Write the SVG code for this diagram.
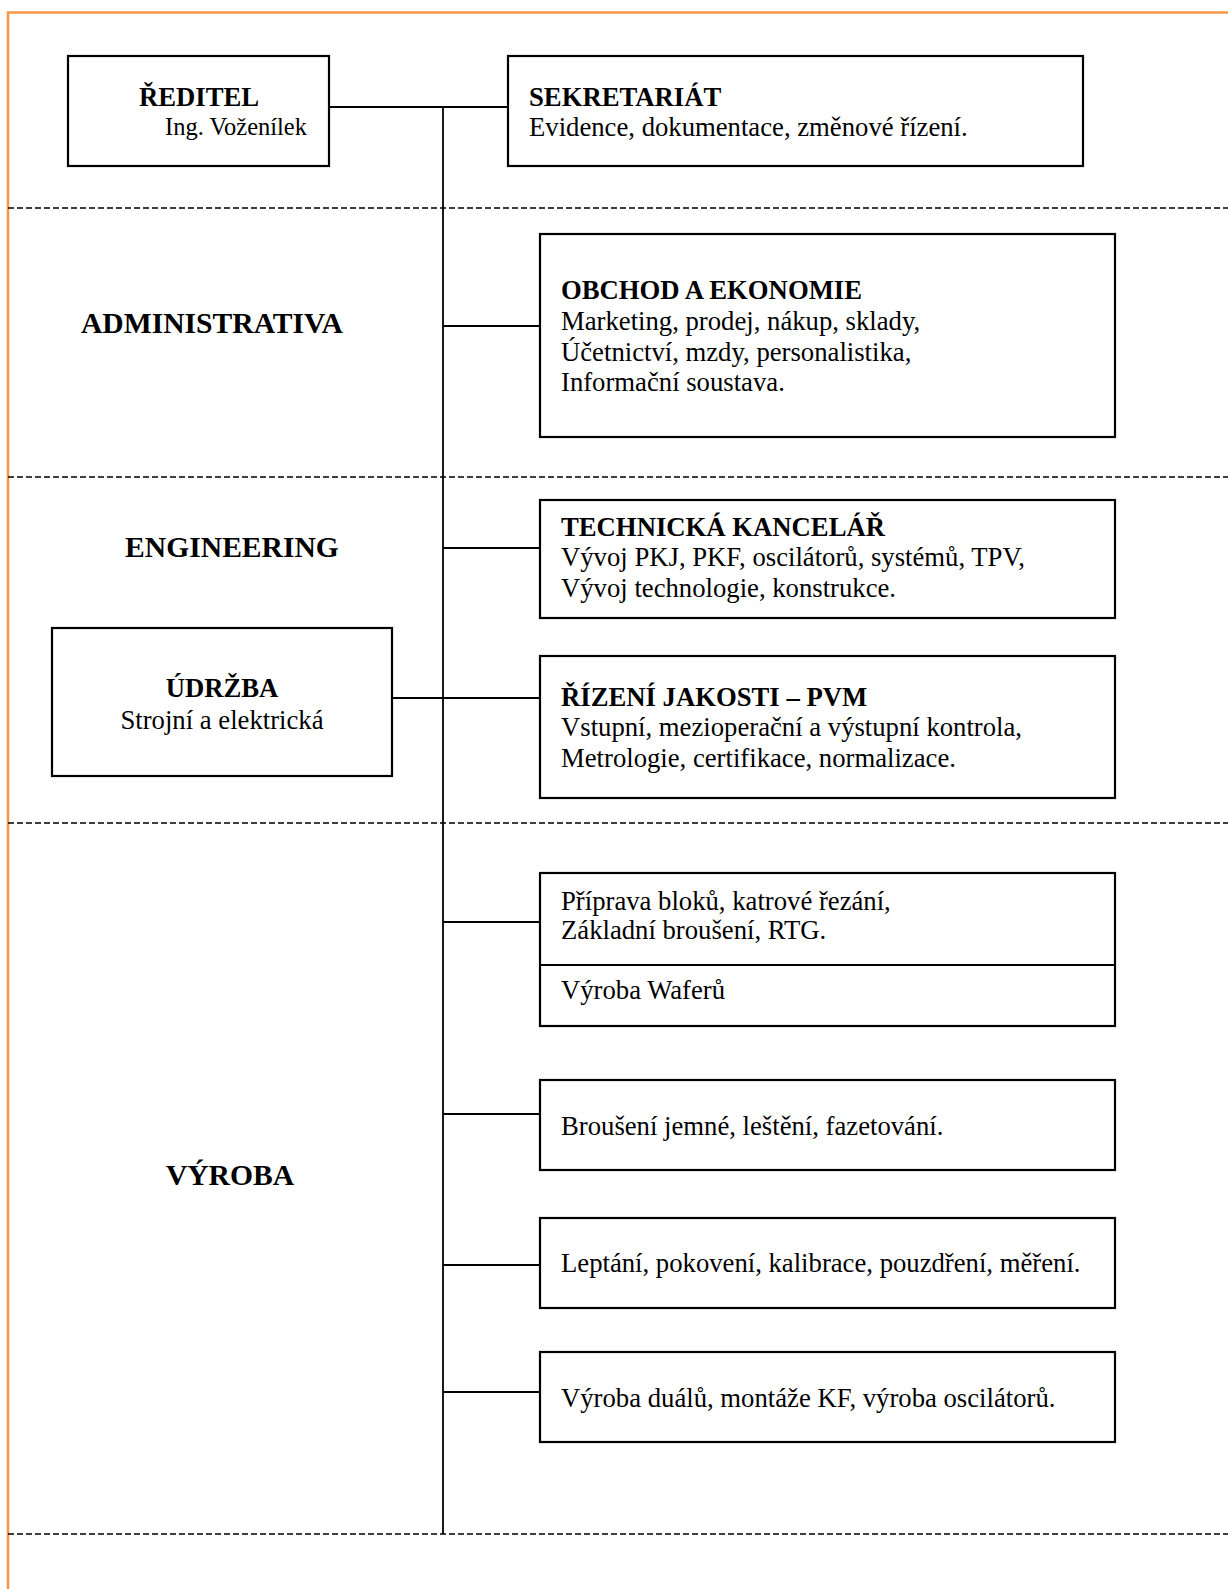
<svg xmlns="http://www.w3.org/2000/svg" width="1228" height="1589" viewBox="0 0 1228 1589">
<style>
.box{fill:#fff;stroke:#000;stroke-width:2.2}
.ln{stroke:#000;stroke-width:1.8;fill:none}
.dash{stroke:#000;stroke-width:1.4;stroke-dasharray:6 3;fill:none}
text{font-family:"Liberation Serif","Times New Roman",serif;fill:#000}
.t{font-size:26.7px}
.b{font-size:26.7px;font-weight:bold}
.s{font-size:24.5px}
.sec{font-size:29.6px;font-weight:bold}
</style>
<rect width="1228" height="1589" fill="#fff"/>
<path d="M8,1589 V12.5 H1228" stroke="#f79646" stroke-width="2.5" fill="none"/>
<g id="separators">
<line class="dash" x1="8" y1="208" x2="1228" y2="208"/>
<line class="dash" x1="8" y1="477" x2="1228" y2="477"/>
<line class="dash" x1="8" y1="823" x2="1228" y2="823"/>
<line class="dash" x1="8" y1="1534" x2="1228" y2="1534"/>
</g>
<g id="connectors">
<line class="ln" x1="443" y1="107" x2="443" y2="1534"/>
<line class="ln" x1="329" y1="107" x2="508" y2="107"/>
<line class="ln" x1="443" y1="326" x2="540" y2="326"/>
<line class="ln" x1="443" y1="548" x2="540" y2="548"/>
<line class="ln" x1="392" y1="698" x2="540" y2="698"/>
<line class="ln" x1="443" y1="922" x2="540" y2="922"/>
<line class="ln" x1="443" y1="1114" x2="540" y2="1114"/>
<line class="ln" x1="443" y1="1265" x2="540" y2="1265"/>
<line class="ln" x1="443" y1="1392" x2="540" y2="1392"/>
</g>
<g id="sections">
<text class="sec" x="212" y="333" text-anchor="middle">ADMINISTRATIVA</text>
<text class="sec" x="232" y="557" text-anchor="middle">ENGINEERING</text>
<text class="sec" x="230" y="1185" text-anchor="middle">VÝROBA</text>
</g>
<g id="reditel">
<rect class="box" x="68" y="56" width="261" height="110"/>
<text class="b" x="139" y="106">ŘEDITEL</text>
<text class="s" x="165" y="135">Ing. Voženílek</text>
</g>
<g id="sekretariat">
<rect class="box" x="508" y="56" width="575" height="110"/>
<text class="b" x="529" y="106">SEKRETARIÁT</text>
<text class="t" x="529" y="136">Evidence, dokumentace, změnové řízení.</text>
</g>
<g id="obchod">
<rect class="box" x="540" y="234" width="575" height="203"/>
<text class="b" x="561" y="299">OBCHOD A EKONOMIE</text>
<text class="t" x="561" y="330">Marketing, prodej, nákup, sklady,</text>
<text class="t" x="561" y="361">Účetnictví, mzdy, personalistika,</text>
<text class="t" x="561" y="391">Informační soustava.</text>
</g>
<g id="technicka">
<rect class="box" x="540" y="500" width="575" height="118"/>
<text class="b" x="561" y="536">TECHNICKÁ KANCELÁŘ</text>
<text class="t" x="561" y="566">Vývoj PKJ, PKF, oscilátorů, systémů, TPV,</text>
<text class="t" x="561" y="597">Vývoj technologie, konstrukce.</text>
</g>
<g id="udrzba">
<rect class="box" x="52" y="628" width="340" height="148"/>
<text class="b" x="222" y="697" text-anchor="middle">ÚDRŽBA</text>
<text class="t" x="222" y="729" text-anchor="middle">Strojní a elektrická</text>
</g>
<g id="jakost">
<rect class="box" x="540" y="656" width="575" height="142"/>
<text class="b" x="561" y="706">ŘÍZENÍ JAKOSTI – PVM</text>
<text class="t" x="561" y="736">Vstupní, mezioperační a výstupní kontrola,</text>
<text class="t" x="561" y="767">Metrologie, certifikace, normalizace.</text>
</g>
<g id="priprava">
<rect class="box" x="540" y="873" width="575" height="153"/>
<line class="ln" x1="540" y1="965" x2="1115" y2="965" stroke-width="2.2"/>
<text class="t" x="561" y="910">Příprava bloků, katrové řezání,</text>
<text class="t" x="561" y="939">Základní broušení, RTG.</text>
<text class="t" x="561" y="999">Výroba Waferů</text>
</g>
<g id="brouseni">
<rect class="box" x="540" y="1080" width="575" height="90"/>
<text class="t" x="561" y="1135">Broušení jemné, leštění, fazetování.</text>
</g>
<g id="leptani">
<rect class="box" x="540" y="1218" width="575" height="90"/>
<text class="t" x="561" y="1272">Leptání, pokovení, kalibrace, pouzdření, měření.</text>
</g>
<g id="dualy">
<rect class="box" x="540" y="1352" width="575" height="90"/>
<text class="t" x="561" y="1407">Výroba duálů, montáže KF, výroba oscilátorů.</text>
</g>
</svg>
